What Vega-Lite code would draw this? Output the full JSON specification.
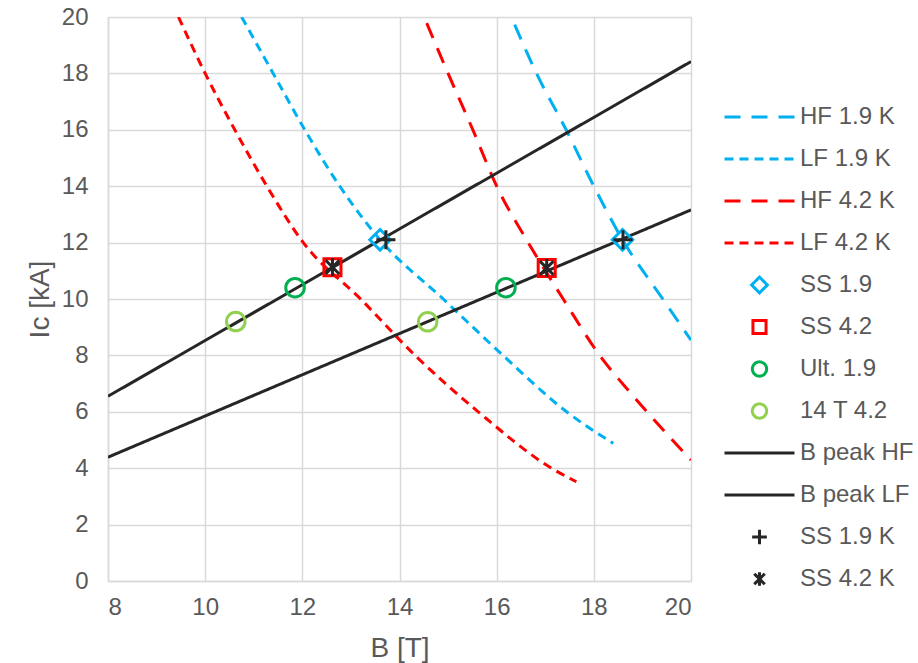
{
  "$schema": "https://vega.github.io/schema/vega-lite/v6.json",
  "width": 583,
  "height": 564,
  "autosize": {"type": "none"},
  "padding": {"left": 108, "top": 17, "right": 227, "bottom": 82},
  "background": "white",
  "config": {
    "view": {"stroke": null},
    "font": "Liberation Sans",
    "axis": {
      "labelFont": "Liberation Sans",
      "labelFontSize": 24,
      "labelColor": "#595959",
      "titleFont": "Liberation Sans",
      "titleFontSize": 28,
      "titleFontWeight": "normal",
      "titleColor": "#595959",
      "gridColor": "#D9D9D9",
      "gridWidth": 1.5,
      "domainColor": "#D9D9D9",
      "domainWidth": 1.5,
      "ticks": false
    },
    "legend": {
      "labelFont": "Liberation Sans",
      "labelFontSize": 24,
      "labelColor": "#595959",
      "symbolSize": 4900,
      "symbolStrokeWidth": 3,
      "rowPadding": 18,
      "labelOffset": 4,
      "clipHeight": 24,
      "padding": 0
    }
  },
  "datasets": {
    "curves": [
      {"series": "HF 1.9 K", "B": 16.37, "Ic": 19.73},
      {"series": "HF 1.9 K", "B": 16.82, "Ic": 18.0},
      {"series": "HF 1.9 K", "B": 17.43, "Ic": 16.0},
      {"series": "HF 1.9 K", "B": 18.0, "Ic": 14.0},
      {"series": "HF 1.9 K", "B": 18.59, "Ic": 12.1},
      {"series": "HF 1.9 K", "B": 19.42, "Ic": 10.0},
      {"series": "HF 1.9 K", "B": 20.0, "Ic": 8.54},
      {"series": "LF 1.9 K", "B": 10.75, "Ic": 20.0},
      {"series": "LF 1.9 K", "B": 11.4, "Ic": 18.0},
      {"series": "LF 1.9 K", "B": 12.05, "Ic": 16.0},
      {"series": "LF 1.9 K", "B": 12.77, "Ic": 14.0},
      {"series": "LF 1.9 K", "B": 13.6, "Ic": 12.1},
      {"series": "LF 1.9 K", "B": 14.9, "Ic": 10.0},
      {"series": "LF 1.9 K", "B": 16.13, "Ic": 8.0},
      {"series": "LF 1.9 K", "B": 17.44, "Ic": 6.0},
      {"series": "LF 1.9 K", "B": 18.4, "Ic": 4.88},
      {"series": "HF 4.2 K", "B": 14.56, "Ic": 19.78},
      {"series": "HF 4.2 K", "B": 15.0, "Ic": 18.0},
      {"series": "HF 4.2 K", "B": 15.51, "Ic": 16.0},
      {"series": "HF 4.2 K", "B": 16.0, "Ic": 14.0},
      {"series": "HF 4.2 K", "B": 16.65, "Ic": 12.0},
      {"series": "HF 4.2 K", "B": 17.37, "Ic": 10.0},
      {"series": "HF 4.2 K", "B": 18.12, "Ic": 8.0},
      {"series": "HF 4.2 K", "B": 18.74, "Ic": 6.7},
      {"series": "HF 4.2 K", "B": 20.0, "Ic": 4.29},
      {"series": "LF 4.2 K", "B": 9.45, "Ic": 20.0},
      {"series": "LF 4.2 K", "B": 10.0, "Ic": 18.0},
      {"series": "LF 4.2 K", "B": 10.61, "Ic": 16.0},
      {"series": "LF 4.2 K", "B": 11.27, "Ic": 14.0},
      {"series": "LF 4.2 K", "B": 12.02, "Ic": 12.0},
      {"series": "LF 4.2 K", "B": 13.2, "Ic": 10.0},
      {"series": "LF 4.2 K", "B": 14.32, "Ic": 8.0},
      {"series": "LF 4.2 K", "B": 15.62, "Ic": 6.0},
      {"series": "LF 4.2 K", "B": 17.13, "Ic": 4.0},
      {"series": "LF 4.2 K", "B": 17.64, "Ic": 3.52},
      {"series": "B peak HF", "B": 8, "Ic": 6.55},
      {"series": "B peak HF", "B": 20, "Ic": 18.42},
      {"series": "B peak LF", "B": 8, "Ic": 4.39},
      {"series": "B peak LF", "B": 20, "Ic": 13.16}
    ],
    "points": [
      {"series": "SS 1.9", "B": 13.6, "Ic": 12.1},
      {"series": "SS 1.9", "B": 18.59, "Ic": 12.1},
      {"series": "SS 4.2", "B": 12.62, "Ic": 11.13},
      {"series": "SS 4.2", "B": 17.03, "Ic": 11.1},
      {"series": "Ult. 1.9", "B": 11.85, "Ic": 10.4},
      {"series": "Ult. 1.9", "B": 16.19, "Ic": 10.4},
      {"series": "14 T 4.2", "B": 10.63, "Ic": 9.2},
      {"series": "14 T 4.2", "B": 14.58, "Ic": 9.19},
      {"series": "SS 1.9 K", "B": 13.72, "Ic": 12.1},
      {"series": "SS 1.9 K", "B": 18.6, "Ic": 12.1},
      {"series": "SS 4.2 K", "B": 12.62, "Ic": 11.13},
      {"series": "SS 4.2 K", "B": 17.03, "Ic": 11.1}
    ]
  },
  "encoding": {
    "x": {
      "field": "B", "type": "quantitative",
      "scale": {"domain": [8, 20], "nice": false, "zero": false},
      "axis": {"title": "B [T]", "values": [8, 10, 12, 14, 16, 18, 20], "labelPadding": 14, "titlePadding": 15, "grid": true}
    },
    "y": {
      "field": "Ic", "type": "quantitative",
      "scale": {"domain": [0, 20], "nice": false},
      "axis": {"title": "Ic [kA]", "values": [0, 2, 4, 6, 8, 10, 12, 14, 16, 18, 20], "labelPadding": 20, "titlePadding": 7, "grid": true}
    },
    "color": {
      "field": "series", "type": "nominal",
      "scale": {
        "domain": ["HF 1.9 K", "LF 1.9 K", "HF 4.2 K", "LF 4.2 K", "SS 1.9", "SS 4.2", "Ult. 1.9", "14 T 4.2", "B peak HF", "B peak LF", "SS 1.9 K", "SS 4.2 K"],
        "range": ["#00B0F0", "#00B0F0", "#FF0000", "#FF0000", "#00B0F0", "#FF0000", "#00B050", "#92D050", "#262626", "#262626", "#262626", "#262626"]
      },
      "legend": {"title": null, "orient": "none", "legendX": 615, "legendY": 88, "symbolSize": 4900, "clipHeight": 24, "encode": {"symbols": {"update": {"size": {"value": 4900}}}}}
    }
  },
  "layer": [
    {
      "data": {"name": "curves"},
      "mark": {"type": "line", "strokeWidth": 3, "interpolate": "monotone", "clip": true},
      "encoding": {
        "strokeDash": {
          "field": "series", "type": "nominal",
          "scale": {
            "domain": ["HF 1.9 K", "LF 1.9 K", "HF 4.2 K", "LF 4.2 K", "SS 1.9", "SS 4.2", "Ult. 1.9", "14 T 4.2", "B peak HF", "B peak LF", "SS 1.9 K", "SS 4.2 K"],
            "range": [[16, 11], [9, 6], [16, 11], [9, 6], [1, 0], [1, 0], [1, 0], [1, 0], [1, 0], [1, 0], [1, 0], [1, 0]]
          },
          "legend": {"title": null, "orient": "none", "legendX": 615, "legendY": 88, "symbolSize": 4900, "clipHeight": 24, "encode": {"symbols": {"update": {"size": {"value": 4900}}}}}
        }
      }
    },
    {
      "data": {"name": "points"},
      "mark": {"type": "point", "filled": false, "strokeWidth": 3, "size": 8281, "opacity": 1},
      "encoding": {
        "shape": {
          "field": "series", "type": "nominal",
          "scale": {
            "domain": ["HF 1.9 K", "LF 1.9 K", "HF 4.2 K", "LF 4.2 K", "SS 1.9", "SS 4.2", "Ult. 1.9", "14 T 4.2", "B peak HF", "B peak LF", "SS 1.9 K", "SS 4.2 K"],
            "range": [
              "M-1,0H1", "M-1,0H1", "M-1,0H1", "M-1,0H1",
              "M0,-0.225L0.225,0L0,0.225L-0.225,0Z",
              "M-0.187,-0.187H0.187V0.187H-0.187Z",
              "M0.204,0A0.204,0.204 0 1,1 -0.204,0A0.204,0.204 0 1,1 0.204,0Z",
              "M0.204,0A0.204,0.204 0 1,1 -0.204,0A0.204,0.204 0 1,1 0.204,0Z",
              "M-1,0H1", "M-1,0H1",
              "M-0.21,0H0.21M0,-0.21V0.21",
              "M-0.15,-0.15L0.15,0.15M-0.15,0.15L0.15,-0.15M0,-0.195V0.195"
            ]
          },
          "legend": {"title": null, "orient": "none", "legendX": 615, "legendY": 88, "symbolSize": 4900, "clipHeight": 24, "encode": {"symbols": {"update": {"size": {"value": 4900}}}}}
        }
      }
    }
  ]
}
